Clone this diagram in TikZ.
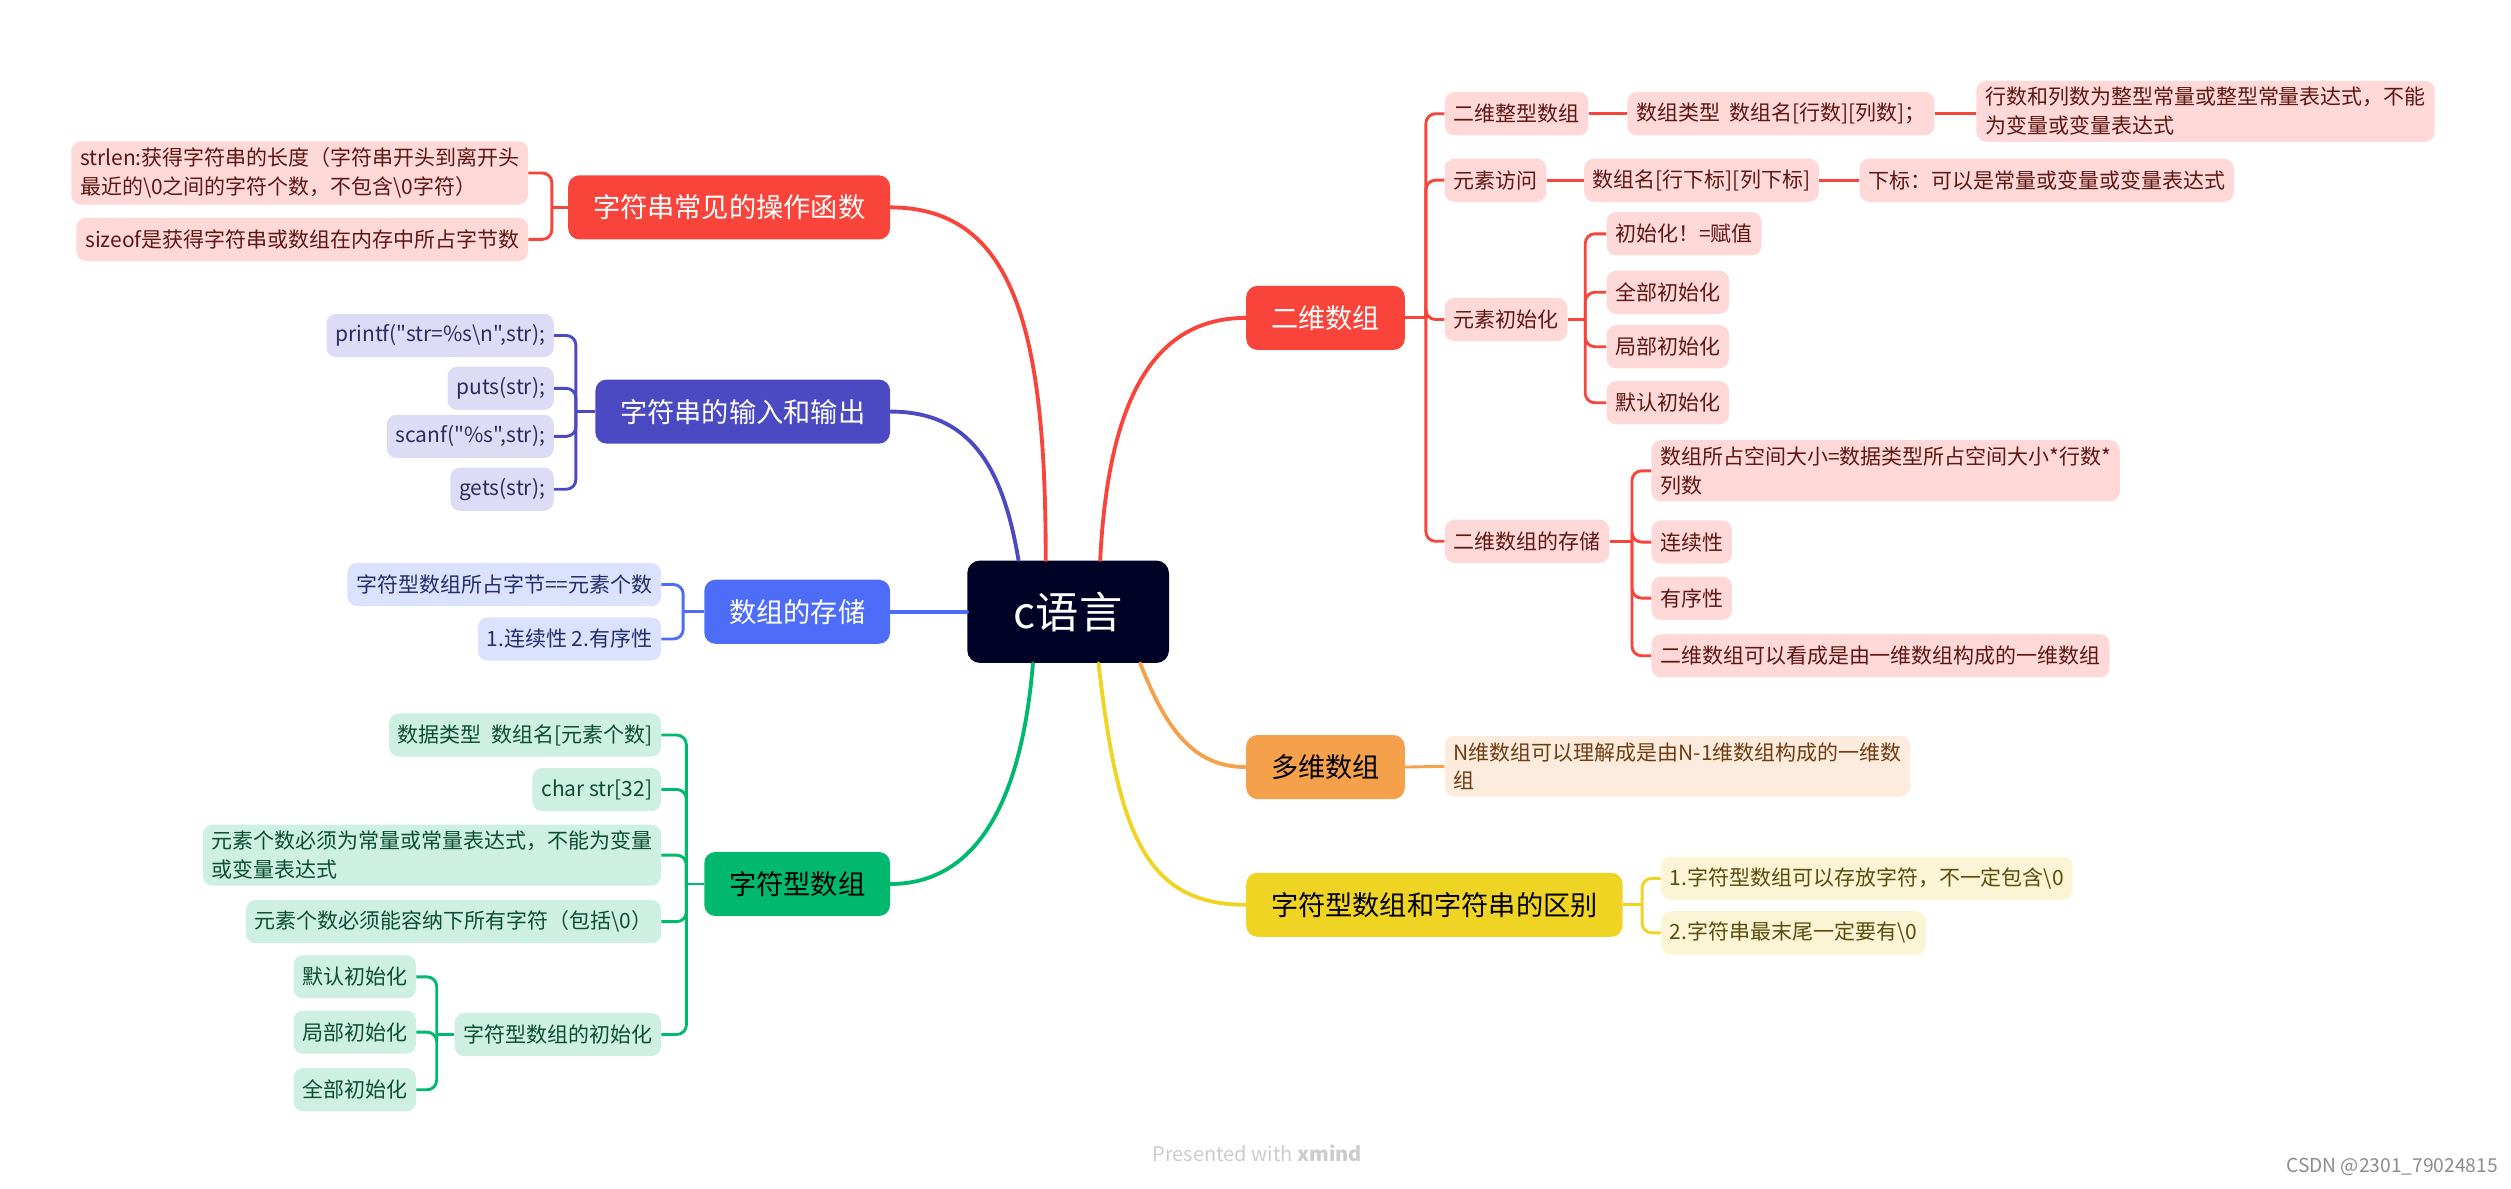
\documentclass[tikz,border=0pt]{standalone}
\usepackage{fontspec}
\setmainfont{Noto Sans CJK SC}
\newfontfamily\qfont{Noto Sans CJK SC}
\definecolor{rootc}{HTML}{000226}
\definecolor{redm}{HTML}{F9443B}
\definecolor{redl}{HTML}{FFD9D7}
\definecolor{redt}{HTML}{5E1712}
\definecolor{purm}{HTML}{4C4AC2}
\definecolor{purl}{HTML}{DCDCF6}
\definecolor{purt}{HTML}{2C2B5C}
\definecolor{blum}{HTML}{4D6DF8}
\definecolor{blul}{HTML}{DBE2FD}
\definecolor{blut}{HTML}{232E6A}
\definecolor{grem}{HTML}{00B86E}
\definecolor{grel}{HTML}{CDF0E2}
\definecolor{gret}{HTML}{0C4E34}
\definecolor{oram}{HTML}{F5A14C}
\definecolor{oral}{HTML}{FDEBDD}
\definecolor{orat}{HTML}{6E3D12}
\definecolor{yelm}{HTML}{F0D424}
\definecolor{yell}{HTML}{FCF5D5}
\definecolor{yelt}{HTML}{5A4C0C}
\tikzset{
  rootnode/.style={fill=rootc, text=white, rounded corners=8, minimum width=126, minimum height=64, inner sep=0, font=\fontsize{27}{32}\selectfont},
  mainb/.style={rounded corners=7, minimum height=40, inner xsep=15.5, inner ysep=0, font=\fontsize{17}{20}\selectfont},
  sub/.style={rounded corners=6, minimum height=27, inner xsep=5.5, inner ysep=4, font=\fontsize{13.1}{18}\selectfont, align=left},
  cmain/.style={line width=2.4, line cap=round},
  csub/.style={line width=1.8, rounded corners=6},
  wm/.style={inner sep=0},
}
\begin{document}
\begin{tikzpicture}[x=1pt, y=-1pt]
\useasboundingbox (0,0) rectangle (1568,742);
% root
\node[rootnode] (root) at (667,382) {c语言};

% ---- left: 字符串常见的操作函数
\node[mainb, fill=redm, text=white, anchor=east] (fA) at (556,129.5) {字符串常见的操作函数};
\node[sub, fill=redl, text=redt, anchor=east] (fA1) at (330,108) {strlen:获得字符串的长度（字符串开头到离开头\\最近的\textbackslash0之间的字符个数，不包含\textbackslash0字符）};
\node[sub, fill=redl, text=redt, anchor=east] (fA2) at (330,149.5) {sizeof是获得字符串或数组在内存中所占字节数};
\draw[csub, redm] (fA.west) -- ++(-10,0) coordinate (sA);
\draw[csub, redm] (sA) |- (fA1.east);
\draw[csub, redm] (sA) |- (fA2.east);

% ---- left: 字符串的输入和输出
\node[mainb, fill=purm, text=white, anchor=east] (fB) at (556,257) {字符串的输入和输出};
\node[sub, fill=purl, text=purt, anchor=east] (fB1) at (346,209.5) {\qfont printf("str=\%s\textbackslash n",str);};
\node[sub, fill=purl, text=purt, anchor=east] (fB2) at (346,242.5) {puts(str);};
\node[sub, fill=purl, text=purt, anchor=east] (fB3) at (346,272.5) {\qfont scanf("\%s",str);};
\node[sub, fill=purl, text=purt, anchor=east] (fB4) at (346,305.5) {gets(str);};
\draw[csub, purm] (fB.west) -- ++(-12,0) coordinate (sB);
\foreach \c in {fB1,fB2,fB3,fB4} \draw[csub, purm] (sB) |- (\c.east);

% ---- left: 数组的存储
\node[mainb, fill=blum, text=white, anchor=east] (fC) at (556,382) {数组的存储};
\node[sub, fill=blul, text=blut, anchor=east] (fC1) at (413,365) {字符型数组所占字节==元素个数};
\node[sub, fill=blul, text=blut, anchor=east] (fC2) at (413,399) {1.连续性 2.有序性};
\draw[csub, blum] (fC.west) -- ++(-13,0) coordinate (sC);
\foreach \c in {fC1,fC2} \draw[csub, blum] (sC) |- (\c.east);

% ---- left: 字符型数组
\node[mainb, fill=grem, text=black, anchor=east] (fD) at (556,552) {字符型数组};
\node[sub, fill=grel, text=gret, anchor=east] (fD1) at (413,459) {数据类型\ \ 数组名[元素个数]};
\node[sub, fill=grel, text=gret, anchor=east] (fD2) at (413,493) {char str[32]};
\node[sub, fill=grel, text=gret, anchor=east] (fD3) at (413,534) {元素个数必须为常量或常量表达式，不能为变量\\或变量表达式};
\node[sub, fill=grel, text=gret, anchor=east] (fD4) at (413,575.5) {元素个数必须能容纳下所有字符（包括\textbackslash0）};
\node[sub, fill=grel, text=gret, anchor=east] (fD5) at (413,646) {字符型数组的初始化};
\node[sub, fill=grel, text=gret, anchor=east] (fD51) at (260,610) {默认初始化};
\node[sub, fill=grel, text=gret, anchor=east] (fD52) at (260,644.5) {局部初始化};
\node[sub, fill=grel, text=gret, anchor=east] (fD53) at (260,680.5) {全部初始化};
\draw[csub, grem] (fD.west) -- ++(-11,0) coordinate (sD);
\foreach \c in {fD1,fD2,fD3,fD4,fD5} \draw[csub, grem] (sD) |- (\c.east);
\draw[csub, grem] (fD5.west) -- ++(-11,0) coordinate (sD5);
\foreach \c in {fD51,fD52,fD53} \draw[csub, grem] (sD5) |- (\c.east);

% ---- right: 二维数组
\node[mainb, fill=redm, text=white, anchor=west] (fE) at (778,198.5) {二维数组};
\node[sub, fill=redl, text=redt, anchor=west] (fE1) at (902,71) {二维整型数组};
\node[sub, fill=redl, text=redt, anchor=west] (fE1a) at (1016,71) {数组类型\ \ 数组名[行数][列数]；};
\node[sub, fill=redl, text=redt, anchor=west] (fE1b) at (1234,69.5) {行数和列数为整型常量或整型常量表达式，不能\\为变量或变量表达式};
\node[sub, fill=redl, text=redt, anchor=west] (fE2) at (902,112.5) {元素访问};
\node[sub, fill=redl, text=redt, anchor=west] (fE2a) at (989,112.5) {数组名[行下标][列下标]};
\node[sub, fill=redl, text=redt, anchor=west] (fE2b) at (1161,112.5) {下标：可以是常量或变量或变量表达式};
\node[sub, fill=redl, text=redt, anchor=west] (fE3) at (902,199.5) {元素初始化};
\node[sub, fill=redl, text=redt, anchor=west] (fE31) at (1003,146) {初始化！=赋值};
\node[sub, fill=redl, text=redt, anchor=west] (fE32) at (1003,182.5) {全部初始化};
\node[sub, fill=redl, text=redt, anchor=west] (fE33) at (1003,216.5) {局部初始化};
\node[sub, fill=redl, text=redt, anchor=west] (fE34) at (1003,251.5) {默认初始化};
\node[sub, fill=redl, text=redt, anchor=west] (fE4) at (902,338) {二维数组的存储};
\node[sub, fill=redl, text=redt, anchor=west] (fE41) at (1031,294) {数组所占空间大小=数据类型所占空间大小*行数*\\列数};
\node[sub, fill=redl, text=redt, anchor=west] (fE42) at (1031,338.5) {连续性};
\node[sub, fill=redl, text=redt, anchor=west] (fE43) at (1031,373.5) {有序性};
\node[sub, fill=redl, text=redt, anchor=west] (fE44) at (1031,409.5) {二维数组可以看成是由一维数组构成的一维数组};
\draw[csub, redm] (fE.east) -- ++(13,0) coordinate (sE);
\foreach \c in {fE1,fE2,fE3,fE4} \draw[csub, redm] (sE) |- (\c.west);
\draw[csub, redm] (fE1.east) -- (fE1a.west);
\draw[csub, redm] (fE1a.east) -- (fE1b.west |- fE1a.east);
\draw[csub, redm] (fE2.east) -- (fE2a.west);
\draw[csub, redm] (fE2a.east) -- (fE2b.west);
\draw[csub, redm] (fE3.east) -- ++(11,0) coordinate (sE3);
\foreach \c in {fE31,fE32,fE33,fE34} \draw[csub, redm] (sE3) |- (\c.west);
\draw[csub, redm] (fE4.east) -- ++(14,0) coordinate (sE4);
\foreach \c in {fE41,fE42,fE43,fE44} \draw[csub, redm] (sE4) |- (\c.west);

% ---- right: 多维数组
\node[mainb, fill=oram, text=black, anchor=west] (fF) at (778,479) {多维数组};
\node[sub, fill=oral, text=orat, anchor=west] (fF1) at (902,478.5) {N维数组可以理解成是由N-1维数组构成的一维数\\组};
\draw[csub, oram] (fF.east) -- (fF1.west);

% ---- right: 字符型数组和字符串的区别
\node[mainb, fill=yelm, text=black, anchor=west] (fG) at (778,565) {字符型数组和字符串的区别};
\node[sub, fill=yell, text=yelt, anchor=west] (fG1) at (1037,548.5) {1.字符型数组可以存放字符，不一定包含\textbackslash0};
\node[sub, fill=yell, text=yelt, anchor=west] (fG2) at (1037,582.5) {2.字符串最末尾一定要有\textbackslash0};
\draw[csub, yelm] (fG.east) -- ++(12,0) coordinate (sG);
\foreach \c in {fG1,fG2} \draw[csub, yelm] (sG) |- (\c.west);

% ---- main curves
\draw[cmain, redm] ([xshift=-14]root.north) .. controls (653,210) and (635,129.5) .. (fA.east);
\draw[cmain, purm] ([xshift=-31]root.north) .. controls (626,290) and (605,257) .. (fB.east);
\draw[cmain, blum] (root.west) -- (fC.east);
\draw[cmain, grem] ([xshift=-22]root.south) .. controls (638,500) and (610,552) .. (fD.east);
\draw[cmain, redm] ([xshift=20]root.north) .. controls (692,250) and (720,198.5) .. (fE.west);
\draw[cmain, oram] ([xshift=45]root.south) .. controls (728,455) and (745,479) .. (fF.west);
\draw[cmain, yelm] ([xshift=19]root.south) .. controls (698,520) and (715,565) .. (fG.west);

% ---- watermarks
\node[wm, text=black!20, font=\fontsize{12.5}{14}\selectfont] (wm1) at (785,720) {Presented with \textbf{xmind}};
\node[wm, text=black!45, font=\fontsize{12}{14}\selectfont, anchor=east] (wm2) at (1560,729) {CSDN @2301\_79024815};
\end{tikzpicture}
\end{document}
